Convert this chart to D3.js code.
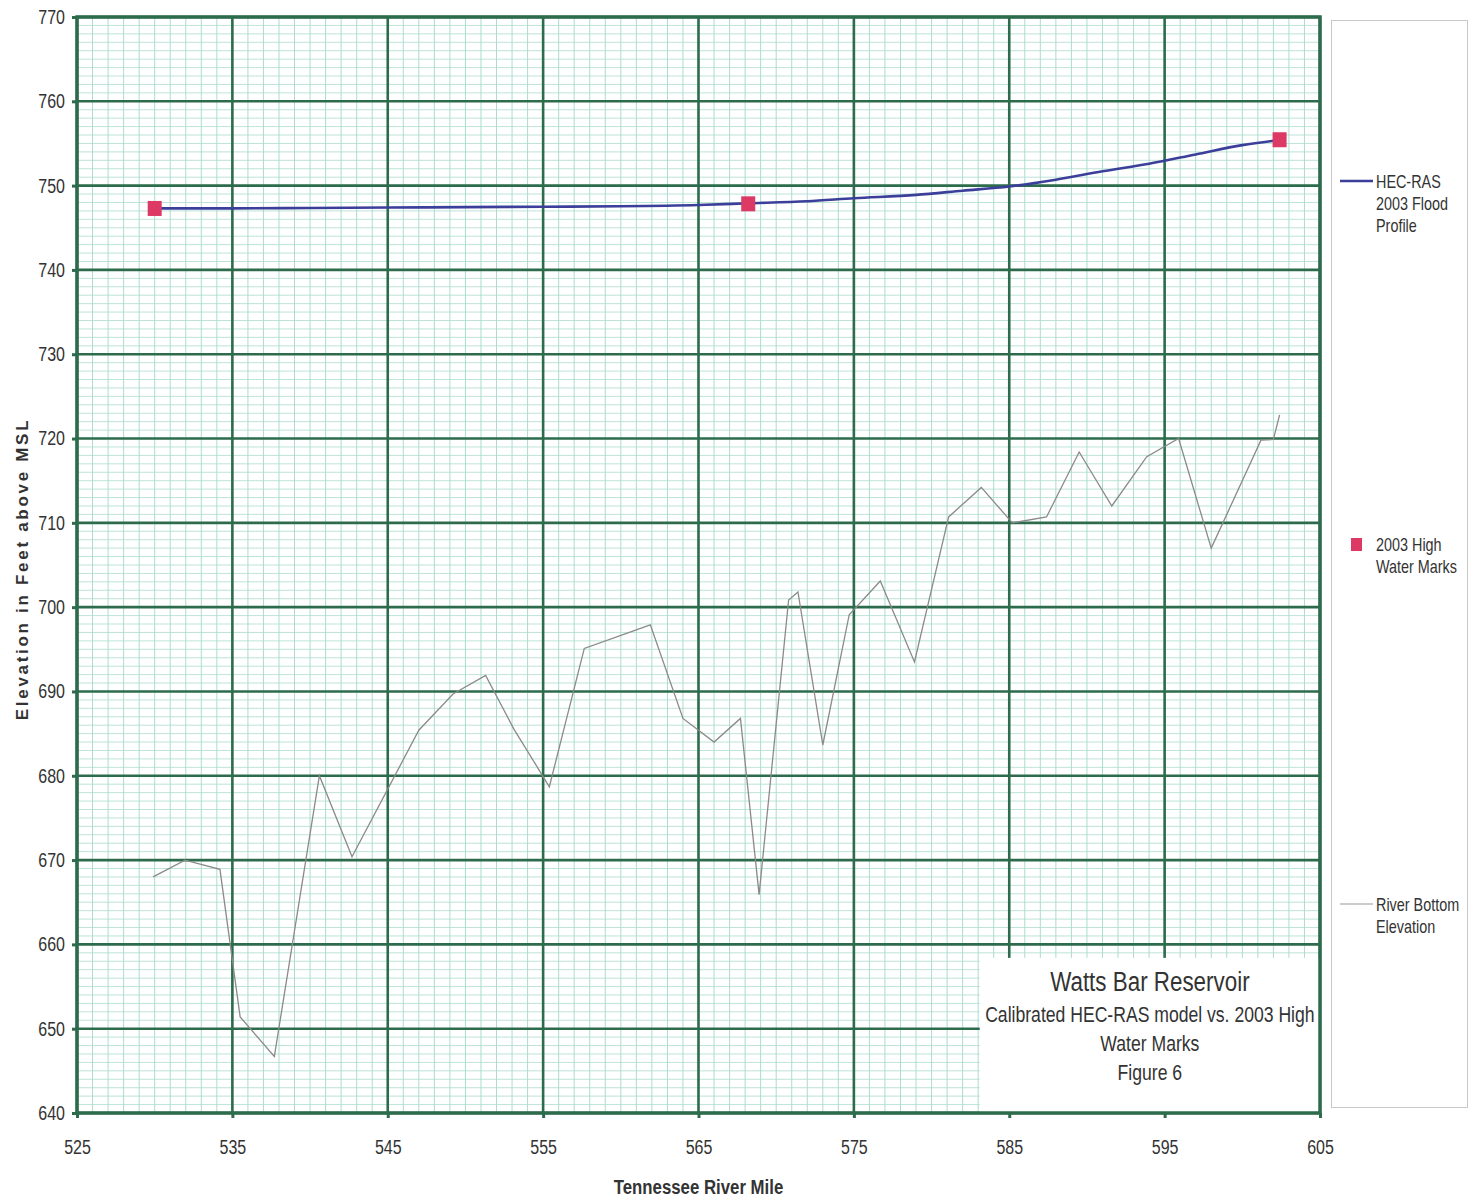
<!DOCTYPE html>
<html>
<head>
<meta charset="utf-8">
<script src="https://cdn.jsdelivr.net/npm/d3@7"></script>
<style>
  body { margin: 0; background: #fff; }
  svg { display: block; font-family: "Liberation Sans", Arial, sans-serif; }
</style>
</head>
<body>
<svg id="chart" width="1472" height="1202"></svg>
<script>
// river miles / elevations
const bottomMiles = [529.9, 531.95, 534.2, 535.5, 537.7, 540.6, 542.7, 547.0, 549.2, 551.3,
  553.1, 555.4, 557.65, 561.9, 564.0, 566.0, 567.7, 568.9, 570.8, 571.4, 573.0, 574.7,
  576.7, 578.9, 581.1, 583.2, 585.2, 587.4, 589.5, 591.6, 593.85, 595.9, 598.0, 601.2,
  602.0, 602.4];
const bottomElev = [668.0, 670.0, 668.9, 651.4, 646.7, 680.0, 670.4, 685.4, 689.7, 691.9,
  685.6, 678.7, 695.1, 697.9, 686.8, 684.0, 686.8, 665.9, 700.85, 701.8, 683.65, 699.1,
  703.1, 693.5, 710.7, 714.2, 710.0, 710.7, 718.4, 712.0, 717.85, 720.0, 707.0, 719.8,
  719.9, 722.8];

const profileMiles = [529.9, 535, 540, 545, 550, 555, 560, 565, 568.2, 572, 575, 579, 582,
  585, 588, 591, 594, 597, 600, 602.4];
const profileElev = [747.3, 747.3, 747.35, 747.4, 747.45, 747.5, 747.55, 747.7, 747.9,
  748.15, 748.5, 748.9, 749.4, 749.9, 750.7, 751.7, 752.6, 753.7, 754.8, 755.4];

const markMiles = [530.0, 568.2, 602.4];
const markElev = [747.35, 747.9, 755.5];

const xTicks = [525, 535, 545, 555, 565, 575, 585, 595, 605];
const yTicks = [640, 650, 660, 670, 680, 690, 700, 710, 720, 730, 740, 750, 760, 770];

const titleLines = ['Watts Bar Reservoir', 'Calibrated HEC-RAS model vs. 2003 High',
  'Water Marks', 'Figure 6'];

const margin = {top: 17, right: 152, bottom: 89, left: 77};
const svg = d3.select('#chart');
const width = 1472 - margin.left - margin.right;
const height = 1202 - margin.top - margin.bottom;

const x = d3.scaleLinear().domain([525, 605]).range([0, width]);
const y = d3.scaleLinear().domain([640, 770]).range([height, 0]);

const major = '#2c6b4c';
const minor = '#acdccf';
const narrow = 0.8; // no narrow font installed, squeeze horizontally

// text squeezed like Arial Narrow
function narrowText(sel, px, py) {
  return sel.append('g')
    .attr('transform', 'translate(' + px + ',' + py + ') scale(' + narrow + ',1)')
    .append('text');
}

const g = svg.append('g')
  .attr('transform', 'translate(' + margin.left + ',' + margin.top + ')');

// minor grid, 1 mile x 1 ft
g.append('g')
  .selectAll('line')
  .data(d3.range(526, 605))
  .enter().append('line')
  .attr('x1', (d) => x(d)).attr('x2', (d) => x(d))
  .attr('y1', 0).attr('y2', height)
  .attr('stroke', minor).attr('stroke-width', 1);

g.append('g')
  .selectAll('line')
  .data(d3.range(641, 770))
  .enter().append('line')
  .attr('y1', (d) => y(d)).attr('y2', (d) => y(d))
  .attr('x1', 0).attr('x2', width)
  .attr('stroke', minor).attr('stroke-width', 0.8);

// major grid
g.append('g')
  .selectAll('line')
  .data(xTicks)
  .enter().append('line')
  .attr('x1', (d) => x(d)).attr('x2', (d) => x(d))
  .attr('y1', 0).attr('y2', height)
  .attr('stroke', major).attr('stroke-width', 2.6);

g.append('g')
  .selectAll('line')
  .data(yTicks)
  .enter().append('line')
  .attr('y1', (d) => y(d)).attr('y2', (d) => y(d))
  .attr('x1', 0).attr('x2', width)
  .attr('stroke', major).attr('stroke-width', 2.6);

// title box covers grid in lower right
const tb = g.append('g');
tb.append('rect')
  .attr('x', x(583.1)).attr('y', y(658.4))
  .attr('width', x(605) - x(583.1))
  .attr('height', y(640) - y(658.4))
  .attr('fill', '#fff');

g.append('rect')
  .attr('width', width).attr('height', height)
  .attr('fill', 'none').attr('stroke', major).attr('stroke-width', 3.5);

titleLines.forEach((t, i) => {
  narrowText(tb, (x(583.1) + x(605)) / 2, i === 0 ? y(655.6) : y(655.6) + 4 + i * 29)
    .attr('dy', '0.35em')
    .attr('text-anchor', 'middle')
    .attr('font-size', i === 0 ? 28 : 22)
    .attr('fill', '#333')
    .text(t);
});

// axes
const xAxis = g.append('g')
  .attr('transform', 'translate(0,' + height + ')')
  .call(d3.axisBottom(x).tickValues(xTicks).tickSize(5).tickPadding(22).tickFormat(d3.format('d')));
const yAxis = g.append('g')
  .call(d3.axisLeft(y).tickValues(yTicks).tickSize(5).tickPadding(9).tickFormat(d3.format('d')));

[xAxis, yAxis].forEach((a) => {
  a.select('.domain').remove();
  a.selectAll('.tick line').attr('stroke', major).attr('stroke-width', 3);
  a.selectAll('.tick text')
    .attr('transform', 'scale(' + narrow + ',1)')
    .attr('font-size', 20)
    .attr('fill', '#333');
});
yAxis.selectAll('.tick text').attr('x', -12 / narrow);

// river bottom
const bottom = bottomMiles.map((m, i) => [m, bottomElev[i]]);
g.append('path')
  .datum(bottom)
  .attr('fill', 'none')
  .attr('stroke', '#8a8a8a')
  .attr('stroke-width', 1.3)
  .attr('d', d3.line().x((d) => x(d[0])).y((d) => y(d[1])));

// HEC-RAS profile
const profile = profileMiles.map((m, i) => [m, profileElev[i]]);
g.append('path')
  .datum(profile)
  .attr('fill', 'none')
  .attr('stroke', '#3b3f9a')
  .attr('stroke-width', 2.6)
  .attr('d', d3.line().curve(d3.curveMonotoneX).x((d) => x(d[0])).y((d) => y(d[1])));

// high water marks
g.append('g')
  .selectAll('rect')
  .data(markMiles.map((m, i) => [m, markElev[i]]))
  .enter().append('rect')
  .attr('x', (d) => x(d[0]) - 7)
  .attr('y', (d) => y(d[1]) - 7)
  .attr('width', 14).attr('height', 15)
  .attr('fill', '#dc3a64');

// axis titles
narrowText(svg, margin.left + x(565), 1194)
  .attr('text-anchor', 'middle')
  .attr('font-size', 21)
  .attr('font-weight', 'bold')
  .attr('fill', '#333')
  .text('Tennessee River Mile');

svg.append('text')
  .attr('transform', 'translate(28,569) rotate(-90)')
  .attr('text-anchor', 'middle')
  .attr('font-size', 17)
  .attr('font-weight', 'bold')
  .attr('letter-spacing', 2.7)
  .attr('fill', '#333')
  .text('Elevation in Feet above MSL');

// legend
const lg = svg.append('g');
lg.append('rect')
  .attr('x', 1331.5).attr('y', 20.5)
  .attr('width', 136).attr('height', 1087)
  .attr('fill', '#fff').attr('stroke', '#c8c8c8');

const legendItems = [
  {type: 'line', color: '#3b3f9a', w: 2.6, y: 181, lines: ['HEC-RAS', '2003 Flood', 'Profile']},
  {type: 'mark', color: '#dc3a64', y: 544, lines: ['2003 High', 'Water Marks']},
  {type: 'line', color: '#9a9a9a', w: 1.2, y: 904, lines: ['River Bottom', 'Elevation']},
];

legendItems.forEach((it) => {
  if (it.type === 'line') {
    lg.append('line')
      .attr('x1', 1340).attr('x2', 1373)
      .attr('y1', it.y).attr('y2', it.y)
      .attr('stroke', it.color).attr('stroke-width', it.w);
  } else {
    lg.append('rect')
      .attr('x', 1351).attr('y', it.y - 6)
      .attr('width', 11).attr('height', 13)
      .attr('fill', it.color);
  }
  it.lines.forEach((t, i) => {
    narrowText(lg, 1376, it.y + 1 + i * 22)
      .attr('dy', '0.35em')
      .attr('font-size', 18)
      .attr('fill', '#333')
      .text(t);
  });
});
</script>
</body>
</html>
